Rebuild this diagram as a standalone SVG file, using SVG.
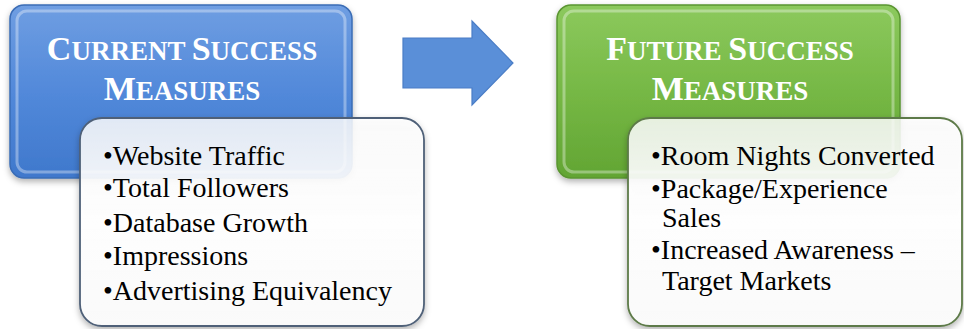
<svg xmlns="http://www.w3.org/2000/svg" width="964" height="329" viewBox="0 0 964 329">
<defs>
<linearGradient id="gBlue" x1="0" y1="0" x2="0" y2="1">
<stop offset="0" stop-color="#6f9ee2"/>
<stop offset="0.5" stop-color="#5289da"/>
<stop offset="1" stop-color="#3f78cc"/>
</linearGradient>
<linearGradient id="gGreen" x1="0" y1="0" x2="0" y2="1">
<stop offset="0" stop-color="#8cc95d"/>
<stop offset="0.5" stop-color="#76b845"/>
<stop offset="1" stop-color="#62a533"/>
</linearGradient>
<linearGradient id="gWhite" x1="0" y1="0" x2="0" y2="1">
<stop offset="0" stop-color="#ffffff" stop-opacity="0.82"/>
<stop offset="0.5" stop-color="#ffffff" stop-opacity="0.96"/>
<stop offset="1" stop-color="#fafafa" stop-opacity="1"/>
</linearGradient>
<filter id="sh" x="-10%" y="-10%" width="125%" height="130%">
<feDropShadow dx="0" dy="3" stdDeviation="3" flood-color="#000" flood-opacity="0.3"/>
</filter>
</defs>
<style>
.title{font-family:"Liberation Serif","DejaVu Serif",serif;font-weight:bold;fill:#ffffff;text-anchor:middle}
.big{font-size:34px}
.sm{font-size:27px}
.item{font-family:"Liberation Serif","DejaVu Serif",serif;font-size:28px;fill:#000000}
.bevel{fill:none;stroke:#ffffff;stroke-opacity:0.35;stroke-width:3}
</style>

<g id="connectors">
<path d="M403,38 L472,38 L472,21 L513,63 L472,105 L472,88 L403,88 Z" fill="#5a8fd8" stroke="#4a7dc6" stroke-width="1.2"/>
</g>

<g id="node-current-title">
<rect x="10" y="5" width="342" height="173" rx="14" fill="url(#gBlue)" stroke="#3a6cb5" stroke-width="1.5" filter="url(#sh)"/>
<rect x="17" y="11" width="328" height="161" rx="10" class="bevel"/>
<text class="title" x="182" y="60"><tspan class="big">C</tspan><tspan class="sm">URRENT </tspan><tspan class="big">S</tspan><tspan class="sm">UCCESS</tspan></text>
<text class="title" x="182" y="100"><tspan class="big">M</tspan><tspan class="sm">EASURES</tspan></text>
</g>

<g id="node-current-list">
<rect x="80" y="118" width="344" height="208" rx="22" fill="url(#gWhite)" stroke="#4f6178" stroke-width="1.8" filter="url(#sh)"/>
<text class="item" x="103" y="165">•Website Traffic</text>
<text class="item" x="103" y="197">•Total Followers</text>
<text class="item" x="103" y="232">•Database Growth</text>
<text class="item" x="103" y="265">•Impressions</text>
<text class="item" x="103" y="300">•Advertising Equivalency</text>
</g>

<g id="node-future-title">
<rect x="557" y="5" width="343" height="173" rx="14" fill="url(#gGreen)" stroke="#5a9530" stroke-width="1.5" filter="url(#sh)"/>
<rect x="564" y="11" width="329" height="161" rx="10" class="bevel"/>
<text class="title" x="730" y="60"><tspan class="big">F</tspan><tspan class="sm">UTURE </tspan><tspan class="big">S</tspan><tspan class="sm">UCCESS</tspan></text>
<text class="title" x="730" y="100"><tspan class="big">M</tspan><tspan class="sm">EASURES</tspan></text>
</g>

<g id="node-future-list">
<rect x="628" y="118" width="334" height="208" rx="22" fill="url(#gWhite)" stroke="#5d7a48" stroke-width="1.8" filter="url(#sh)"/>
<text class="item" x="651" y="165">•Room Nights Converted</text>
<text class="item" y="198"><tspan x="651">•Package/Experience</tspan><tspan x="662" dy="29">Sales</tspan></text>
<text class="item" y="259"><tspan x="651">•Increased Awareness –</tspan><tspan x="662" dy="31">Target Markets</tspan></text>
</g>
</svg>
